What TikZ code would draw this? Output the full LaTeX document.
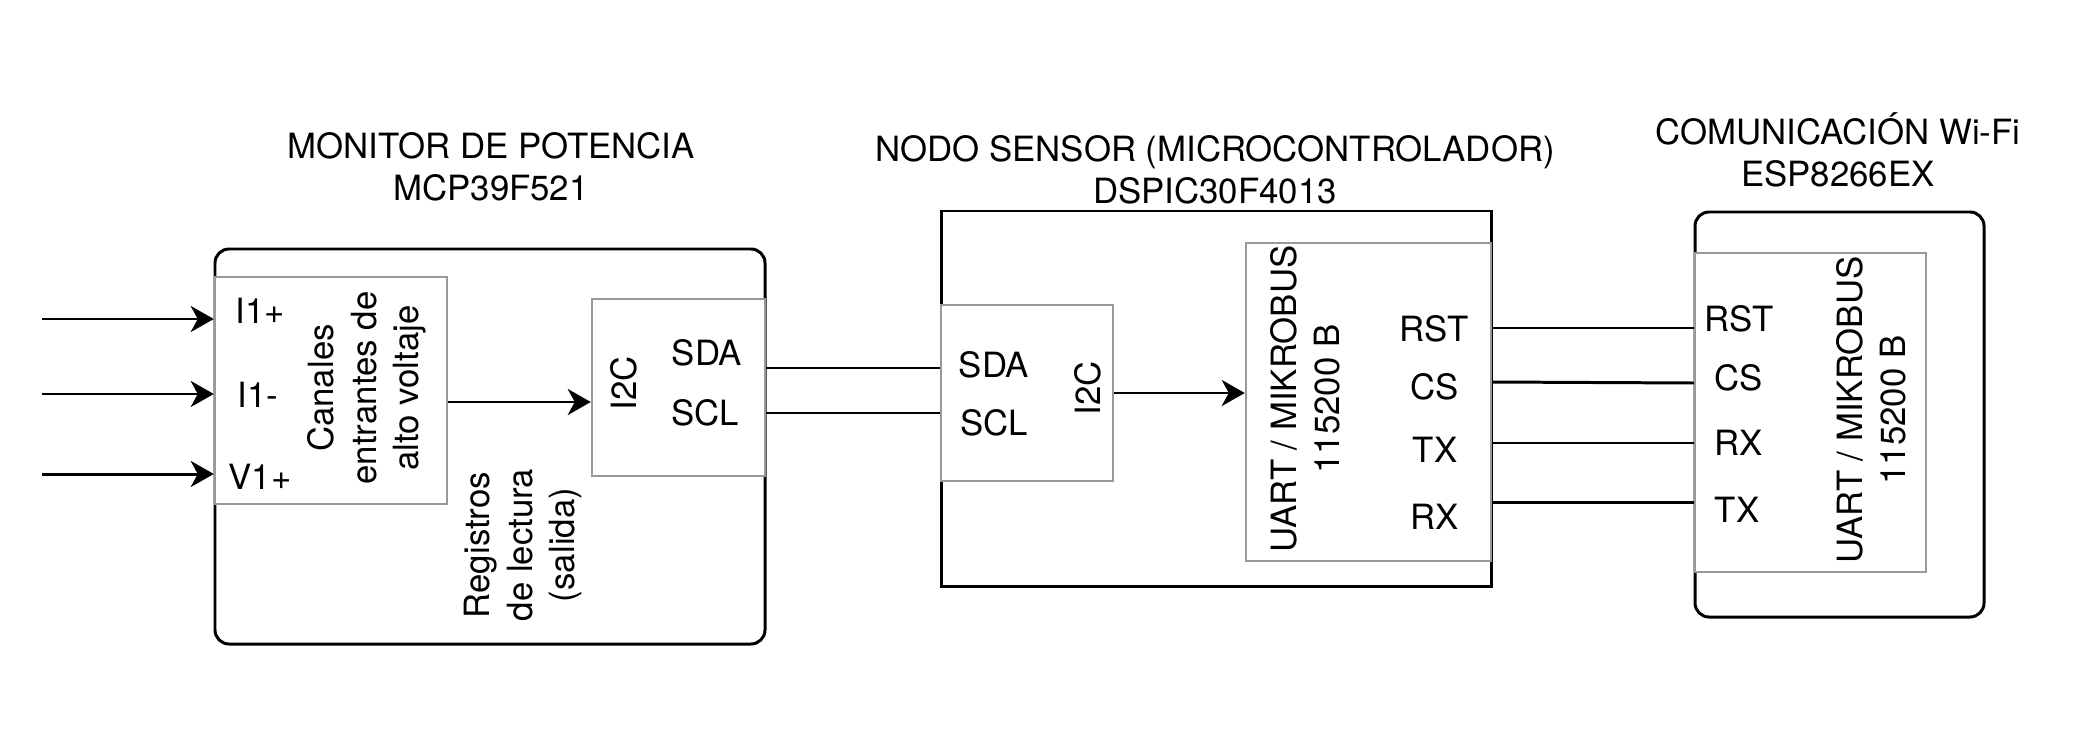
\documentclass[tikz,border=0pt]{standalone}
\usepackage{fontspec}
\setmainfont{TeX Gyre Heros}
\usetikzlibrary{arrows.meta,fit,positioning}
\definecolor{boxgray}{RGB}{153,153,153}
\tikzset{
  blk/.style={draw=black, line width=1.7pt, inner sep=0pt},
  rblk/.style={blk, rounded corners=2.8mm},
  port/.style={draw=boxgray, line width=1.4pt, fill=white, inner sep=0pt},
  lbl/.style={inner sep=0pt, font=\fontsize{19.8}{24.2}\selectfont},
  vlbl/.style={lbl, rotate=90, align=center},
  ttl/.style={lbl, align=center},
  wire/.style={line width=1.7pt},
  arr/.style={wire, -{Stealth[length=4.6mm,width=5.2mm,inset=1.4mm]}},
}
\begin{document}
\begin{tikzpicture}[x=0.2mm, y=-0.2mm]
  \useasboundingbox (0,0) rectangle (2081,750);

  % titulos
  \node[ttl] (montitle) at (491,167) {MONITOR DE POTENCIA\\MCP39F521};
  \node[ttl] (nodotitle) at (1215,170) {NODO SENSOR (MICROCONTROLADOR)\\DSPIC30F4013};
  \node[ttl] (esptitle) at (1838,150) {COMUNICACIÓN Wi-Fi\\ESP8266EX};

  % monitor de potencia
  \node[rblk, fit={(215,249) (765,644)}] (mon) {};
  \node[port, fit={(215,277) (447,504)}] (can) {};
  \node[port, fit={(592,299) (765,476)}] (mi2c) {};
  \node[lbl] (i1plbl) at (260,311) {I1+};
  \node[lbl] (i1mlbl) at (258,395) {I1-};
  \node[lbl] (v1plbl) at (260,477) {V1+};
  \node[vlbl] (cantxt) at (367,388) {Canales\\entrantes de\\alto voltaje};
  \node[vlbl] (mi2ctxt) at (624,383) {I2C};
  \node[lbl] (msda) at (707,353) {SDA};
  \node[lbl] (mscl) at (705,413) {SCL};
  \node[vlbl] (regtxt) at (523,545) {Registros\\de lectura\\(salida)};

  % nodo sensor
  \node[blk, fit={(941,211) (1491,586)}] (nodo) {};
  \node[port, fit={(941,305) (1113,481)}] (ni2c) {};
  \node[port, fit={(1246,243) (1491,561)}] (uart) {};
  \node[lbl] (nsda) at (994,365) {SDA};
  \node[lbl] (nscl) at (994,423) {SCL};
  \node[vlbl] (ni2ctxt) at (1088,388) {I2C};
  \node[vlbl] (uarttxt) at (1305,399) {UART / MIKROBUS\\115200 B};
  \node[lbl] (nrst) at (1434,329) {RST};
  \node[lbl] (ncs) at (1435,387) {CS};
  \node[lbl] (ntx) at (1435,450) {TX};
  \node[lbl] (nrx) at (1435,517) {RX};

  % comunicacion wi-fi
  \node[rblk, fit={(1695,212) (1984,617)}] (esp) {};
  \node[port, fit={(1695,253) (1926,572)}] (eport) {};
  \node[vlbl] (eporttxt) at (1871,410) {UART / MIKROBUS\\115200 B};
  \node[lbl] (erst) at (1739,319) {RST};
  \node[lbl] (ecs) at (1739,378) {CS};
  \node[lbl] (erx) at (1739,443) {RX};
  \node[lbl] (etx) at (1737,510) {TX};

  % entradas
  \coordinate (i1p) at (42,319);
  \coordinate (i1m) at (42,394);
  \coordinate (v1p) at (42,474);
  \draw[arr] (i1p) -- (i1p -| can.west);
  \draw[arr] (i1m) -- (i1m -| can.west);
  \draw[arr] (v1p) -- (v1p -| can.west);

  % conexiones
  \draw[arr] (can.east |- 0,402) -- (mi2c.west |- 0,402);
  \draw[wire] (mi2c.east |- 0,368) -- (ni2c.west |- 0,368);
  \draw[wire] (mi2c.east |- 0,413) -- (ni2c.west |- 0,413);
  \draw[arr] (ni2c.east |- 0,393) -- (uart.west |- 0,393);
  \draw[wire] (uart.east |- 0,328) -- (eport.west |- 0,328);
  \draw[wire] (uart.east |- 0,382) -- (eport.west |- 0,383);
  \draw[wire] (uart.east |- 0,443) -- (eport.west |- 0,443);
  \draw[wire] (uart.east |- 0,502) -- (eport.west |- 0,502);
\end{tikzpicture}
\end{document}
